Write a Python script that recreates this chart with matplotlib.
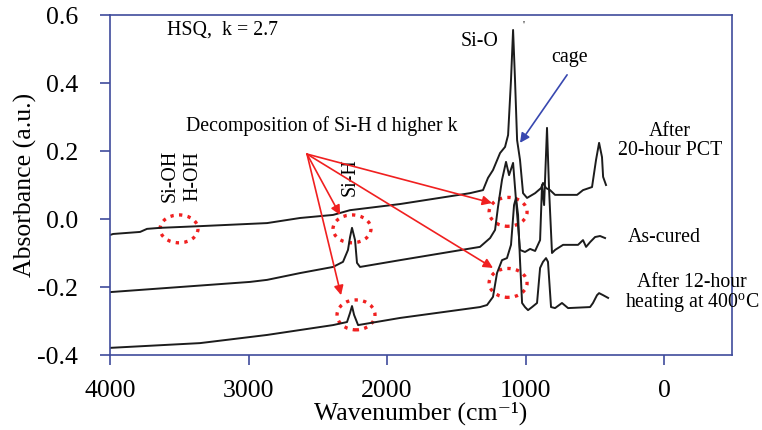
import numpy as np
import matplotlib.pyplot as plt
from matplotlib.patches import Ellipse

plt.rcParams['font.family'] = ['Liberation Serif', 'DejaVu Serif']
plt.rcParams['mathtext.fontset'] = 'custom'
plt.rcParams['mathtext.rm'] = 'Liberation Serif'

# After 20-hour PCT
wn_pct = [4000, 3978, 3783, 3733, 3639, 3350, 2866, 2628, 2390, 2267, 1906, 1401, 1307, 1271,
          1235, 1184, 1148, 1126, 1105, 1090, 1076, 1061, 1040, 1018, 989, 931, 888, 874, 852,
          823, 787, 628, 585, 520, 491, 469, 448, 440, 419]
ab_pct = [-0.047, -0.044, -0.038, -0.029, -0.026, -0.021, -0.012, 0.003, 0.012, 0.026, 0.044,
          0.076, 0.085, 0.121, 0.144, 0.194, 0.212, 0.247, 0.409, 0.556, 0.409, 0.232, 0.174,
          0.076, 0.062, 0.076, 0.091, 0.106, 0.091, 0.085, 0.071, 0.071, 0.085, 0.094, 0.174,
          0.224, 0.182, 0.124, 0.100]

# As-cured
wn_cured = [4000, 2989, 2866, 2628, 2390, 2318, 2282, 2267, 2253, 2231, 2217, 2195, 1906, 1329,
            1256, 1220, 1199, 1170, 1141, 1119, 1090, 1069, 1040, 1004, 967, 931, 895, 881, 866,
            845, 830, 809, 787, 729, 621, 585, 563, 534, 498, 462, 426]
ab_cured = [-0.215, -0.185, -0.179, -0.159, -0.141, -0.126, -0.091, -0.053, -0.026, -0.062,
            -0.129, -0.141, -0.121, -0.082, -0.056, -0.032, 0.035, 0.115, 0.168, 0.129, 0.165,
            0.056, -0.091, -0.097, -0.088, -0.094, -0.062, 0.100, 0.041, 0.268, 0.085, -0.100,
            -0.091, -0.076, -0.076, -0.062, -0.082, -0.068, -0.053, -0.050, -0.056]

# After 12-hour heating at 400C
wn_heat = [4000, 3350, 2866, 2390, 2289, 2267, 2253, 2238, 2209, 1906, 1329, 1278, 1235, 1206,
           1170, 1134, 1105, 1083, 1069, 1054, 1040, 1025, 1004, 982, 953, 917, 895, 874, 852,
           838, 816, 787, 737, 693, 534, 513, 484, 469, 440, 404]
ab_heat = [-0.379, -0.365, -0.341, -0.312, -0.303, -0.276, -0.256, -0.282, -0.312, -0.291,
           -0.259, -0.253, -0.229, -0.159, -0.121, -0.115, -0.076, 0.041, 0.062, 0.012, -0.121,
           -0.247, -0.259, -0.268, -0.259, -0.247, -0.144, -0.126, -0.115, -0.126, -0.259,
           -0.262, -0.247, -0.262, -0.259, -0.247, -0.224, -0.218, -0.224, -0.232]

axis_col = '#3F4C9C'
red = '#F02020'
fs = 14.3

fig = plt.figure(figsize=(7.62, 4.30), dpi=100)
ax = fig.add_axes([0.1444, 0.1744, 0.8163, 0.7907])

for wn, ab in [(wn_pct, ab_pct), (wn_cured, ab_cured), (wn_heat, ab_heat)]:
    ax.plot(wn, ab, color='#1c1c1c', linewidth=1.4)

ax.set_xlim(4000, -491)
ax.set_ylim(-0.4, 0.6)
ax.set_xticks([4000, 3000, 2000, 1000, 0])
ax.set_yticks([-0.4, -0.2, 0.0, 0.2, 0.4, 0.6])
ax.set_yticklabels(['-0.4', '-0.2', '0.0', '0.2', '0.4', '0.6'])
for s in ax.spines.values():
    s.set_color(axis_col)
    s.set_linewidth(1.2)
ax.tick_params(direction='out', length=7, width=1.2, color=axis_col, labelsize=18.5)
ax.tick_params(axis='y', pad=16)
ax.tick_params(axis='x', pad=11)
ax.set_xlabel('Wavenumber (cm⁻¹)', fontsize=18.5, labelpad=0)
ax.set_ylabel('Absorbance (a.u.)', fontsize=18.5, labelpad=0)

# labels
ax.text(3588, 0.556, 'HSQ,  k = 2.7', fontsize=fs, va='center', ha='left')
ax.text(3451, 0.274, 'Decomposition of Si-H d higher k', fontsize=fs, va='center', ha='left')
ax.text(3567, 0.126, 'Si-OH', fontsize=fs, rotation=90, va='center', ha='center')
ax.text(3401, 0.126, 'H-OH', fontsize=fs, rotation=90, va='center', ha='center')
ax.text(2267, 0.124, 'Si-H', fontsize=fs, rotation=90, va='center', ha='center')
ax.text(1329, 0.521, 'Si-O', fontsize=fs, va='center', ha='center')
ax.text(679, 0.476, 'cage', fontsize=fs, va='center', ha='center')
ax.text(-43, 0.229, 'After\n20-hour PCT', fontsize=fs, va='center', ha='center', linespacing=1.0)
ax.text(0, -0.053, 'As-cured', fontsize=fs, va='center', ha='center')
ax.text(-202, -0.221, 'After 12-hour\nheating at 400$^{\\rm o}$C', fontsize=fs,
        va='center', ha='center', linespacing=1.0, clip_on=False)
ax.text(1018, 0.57, "'", fontsize=8, va='center', ha='center')

# dotted circles
circles = [(3502, -0.029, 0.082), (2253, -0.029, 0.082), (2224, -0.282, 0.088),
           (1126, 0.021, 0.085), (1126, -0.188, 0.085)]
for cx, cy, h in circles:
    ax.add_patch(Ellipse((cx, cy), 274, h, fill=False, edgecolor=red,
                         linestyle=(0, (1, 1.6)), linewidth=2.4))

# red arrows
src = (2578, 0.191)
for tx, ty in [(2339, 0.012), (2332, -0.224), (1242, 0.047), (1235, -0.144)]:
    ax.annotate('', xy=(tx, ty), xytext=src,
                arrowprops=dict(arrowstyle='-|>', color=red, lw=1.2, mutation_scale=14,
                                shrinkA=0, shrinkB=0))

ax.annotate('', xy=(1040, 0.224), xytext=(700, 0.424),
            arrowprops=dict(arrowstyle='-|>', color='#3848B0', lw=1.2, mutation_scale=14,
                            shrinkA=0, shrinkB=0))

plt.savefig('out.png', dpi=100)
